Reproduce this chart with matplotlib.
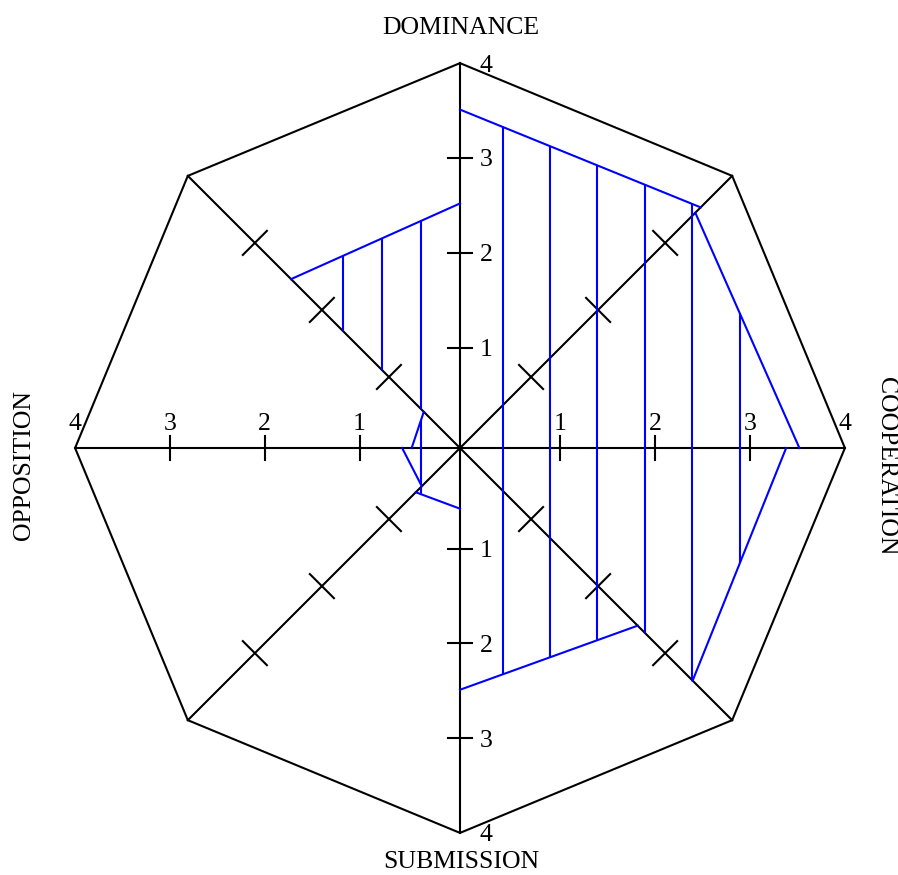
import numpy as np
import matplotlib.pyplot as plt
from matplotlib.path import Path
from matplotlib.patches import PathPatch

plt.rcParams["font.family"] = ["Liberation Serif", "DejaVu Serif"]

# axes clockwise from the top, the diagonals have no name
AXIS_LABELS = ["DOMINANCE", "", "COOPERATION", "", "SUBMISSION", "", "OPPOSITION", ""]
TICK_VALUES = [1, 2, 3, 4]
MAX_VALUE = 4

# sector i runs from axis i to axis i+1:
# its edge starts at sector_start[i] on axis i and ends at sector_end[i] on the next one
sector_start = [3.51, 3.45, 3.38, 2.59, 0.58, 0.51, 0.45, 2.46]
sector_end = [3.53, 3.52, 3.41, 2.49, 0.60, 0.55, 0.48, 2.52]

R_ORIGIN = 0.06
BLUE = "#0000ff"
LW = 1.5
TICK_HALF = 0.127
FS = 18.5


def angle(k):
    return np.deg2rad(90 - 45 * k)


def point(value, k):
    r = value + R_ORIGIN
    return r * np.cos(angle(k)), r * np.sin(angle(k))


def sector_path(indices):
    parts = []
    for i in indices:
        a = point(sector_start[i], i)
        b = point(sector_end[i], (i + 1) % 8)
        parts.append(Path([(0, 0), a, b, (0, 0)], closed=True))
    return Path.make_compound_path(*parts)


fig = plt.figure(figsize=(8.98, 8.75), dpi=100)
ax = fig.add_axes([0, 0, 1, 1])
ax.set_xlim(-4.852, 4.620)
ax.set_ylim(-4.504, 4.726)
ax.axis("off")

# octagon frame and the four lines through the centre
frame = np.array([point(MAX_VALUE, k) for k in range(9)])
ax.plot(frame[:, 0], frame[:, 1], color="black", lw=LW, zorder=2)
for k in range(4):
    a = point(MAX_VALUE, k)
    b = point(MAX_VALUE, k + 4)
    ax.plot([a[0], b[0]], [a[1], b[1]], color="black", lw=LW, zorder=2)

# tick marks across every half axis
for k in range(8):
    th = angle(k)
    half = TICK_HALF / max(abs(np.cos(th)), abs(np.sin(th)))
    dx, dy = -np.sin(th) * half, np.cos(th) * half
    for v in TICK_VALUES[:-1]:
        x, y = point(v, k)
        ax.plot([x - dx, x + dx], [y - dy, y + dy], color="black", lw=LW, zorder=2)

# tick numbers on the four named axes
for k in (0, 2, 4, 6):
    for v in TICK_VALUES:
        x, y = point(v, k)
        if k in (0, 4):
            ax.text(0.274, y, str(v), ha="center", va="center_baseline", fontsize=FS)
        else:
            ax.text(x, 0.285, str(v), ha="center", va="center_baseline", fontsize=FS)

# axis names
ax.text(0.01, 4.43, AXIS_LABELS[0], ha="center", va="center", fontsize=FS)
ax.text(0.01, -4.37, AXIS_LABELS[4], ha="center", va="center", fontsize=FS)
ax.text(4.49, -0.19, AXIS_LABELS[2], ha="center", va="center", fontsize=FS, rotation=-90)
ax.text(-4.60, -0.18, AXIS_LABELS[6], ha="center", va="center", fontsize=FS, rotation=90)

# sector edges
for i in range(8):
    a = point(sector_start[i], i)
    b = point(sector_end[i], (i + 1) % 8)
    ax.plot([a[0], b[0]], [a[1], b[1]], color=BLUE, lw=LW, zorder=3)

# vertical hatching, right half and left half
for indices, sign, first, step in [(range(0, 4), 1, 0.45, 0.50),
                                   (range(4, 8), -1, 0.41, 0.41)]:
    path = sector_path(indices)
    reach = np.abs(path.vertices[:, 0]).max()
    xs = sign * np.arange(first, reach - step / 2, step)
    clip = PathPatch(path, facecolor="none", edgecolor="none", transform=ax.transData)
    ax.add_patch(clip)
    lines = ax.vlines(xs, -MAX_VALUE, MAX_VALUE, color=BLUE, lw=LW, zorder=3)
    lines.set_clip_path(clip)

fig.savefig("out.png", dpi=100)
